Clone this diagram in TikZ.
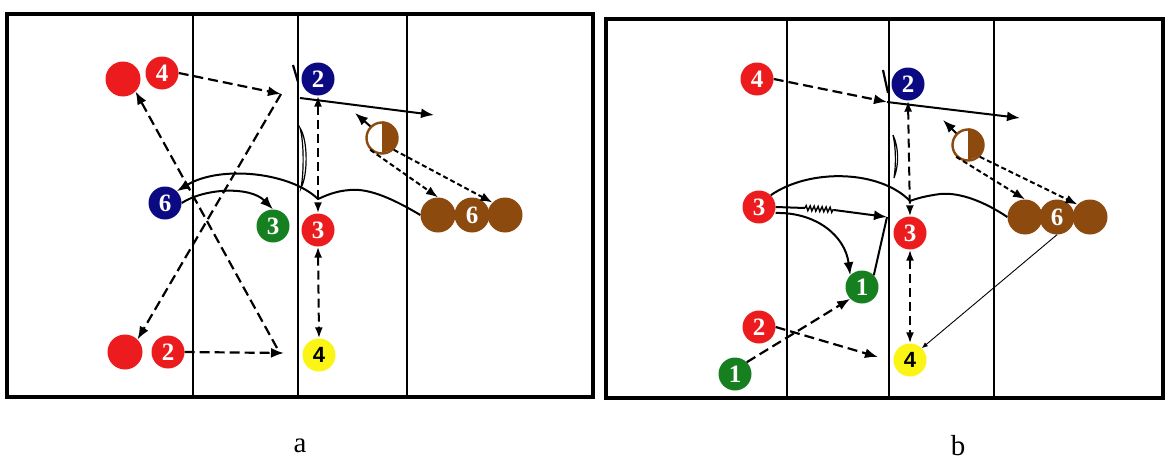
\documentclass[tikz,border=0pt]{standalone}
\usepackage{fontspec}
\setmainfont{Liberation Serif}
\newfontfamily\sansf{Liberation Sans}
\usetikzlibrary{arrows.meta,decorations.pathmorphing}
\definecolor{pred}{RGB}{236,28,30}
\definecolor{pblue}{RGB}{12,10,130}
\definecolor{pgreen}{RGB}{22,128,32}
\definecolor{pyellow}{RGB}{250,245,20}
\definecolor{pbrown}{RGB}{140,74,14}
\tikzset{
  pl/.style={circle, minimum size=33pt, inner sep=0pt, text=white,
    font=\fontsize{25}{25}\selectfont\bfseries},
  rp/.style={pl, fill=pred},
  bp/.style={pl, fill=pblue},
  gp/.style={pl, fill=pgreen},
  yp/.style={pl, fill=pyellow, text=black, font=\sansf\fontsize{22}{22}\selectfont\bfseries},
  brp/.style={pl, fill=pbrown, minimum size=35pt},
  bigred/.style={circle, fill=pred, minimum size=35pt, inner sep=0pt},
  half/.style={circle, draw=pbrown, line width=2.4pt, minimum size=31pt, inner sep=0pt},
  frame/.style={line width=3.2pt},
  court/.style={line width=2.2pt},
  tip/.style={-{Latex[length=13pt,width=10pt]}},
  pass/.style={line width=2.2pt, dash pattern=on 10pt off 5pt, tip},
  passb/.style={line width=2pt, dash pattern=on 9pt off 5pt, {Latex[length=11pt,width=8pt]}-{Latex[length=11pt,width=8pt]}},
  sdash/.style={line width=2pt, dash pattern=on 5pt off 3pt, -{Latex[length=12pt,width=9pt]}},
  run/.style={line width=2pt, tip},
  runn/.style={line width=2pt},
  thin/.style={line width=0.9pt},
  lab/.style={font=\fontsize{29}{29}\selectfont}
}
\begin{document}
\begin{tikzpicture}[x=1pt,y=-1pt]
\useasboundingbox (0,0) rectangle (1165,463);
% ---------------- panel a courts
\draw[frame] (7,14) rectangle (593,397);
\draw[court] (193,14) -- (193,397);
\draw[court] (298,14) -- (298,397);
\draw[court] (407,14) -- (407,397);
% ---------------- panel b courts
\draw[frame] (606,19) rectangle (1163,398);
\draw[court] (787,19) -- (787,398);
\draw[court] (889,19) -- (889,398);
\draw[court] (994,19) -- (994,398);

% ---------------- panel a players
\node[bigred] (rtA) at (123,79) {};
\node[rp] (r4a) at (162,73) {4};
\node[bp] (b6a) at (165,203) {6};
\node[gp] (g3a) at (273,226) {3};
\node[bp] (b2a) at (318,79) {2};
\node[rp] (r3a) at (318,230) {3};
\node[bigred] (rbA) at (125,352) {};
\node[rp] (r2a) at (168,352) {2};
\node[yp] (y4a) at (319,355) {4};
\node[half] (ha) at (382,138) {};
\fill[pbrown] (ha.north) arc[start angle=90,end angle=-90,radius=15.5pt] -- cycle;
\node[brp] (bla) at (438,215) {};
\node[brp] (bma) at (505,215) {};
\node[brp] (b6b) at (472,215) {6};

\coordinate (pA1) at (281,94);
\coordinate (pA2) at (284,353);
\coordinate (pA3) at (277,348);
\coordinate (pA4) at (300,98);
\coordinate (pA5) at (434,115);
\coordinate (pA6) at (355,113);

\draw[pass] (r4a.east) -- (pA1);
\draw[pass] (pA1) -- (rbA.north east);
\draw[pass] (r2a.east) -- (pA2);
\draw[pass] (pA3) -- (rtA.south east);
\draw[run] (b6a.east) .. controls (205,188) and (250,186) .. (g3a.north);
\draw[run] (bla.west) .. controls (395,200) and (370,188) .. (350,190)
   .. controls (335,191) and (325,196) .. (318,199)
   .. controls (290,172) and (220,165) .. (b6a.north east);
\draw[run] (pA4) -- (pA5);
\draw[passb] (b2a.south) -- (r3a.north);
\draw[passb] (r3a.south) -- (y4a.north);
\draw[run] (ha.north west) -- (pA6);
\draw[sdash] (ha.south west) -- (bla.north);
\draw[sdash] (ha.south east) -- (bma.north west);
\draw[line width=2.2pt] (293,65) -- (298,82);
\draw[line width=1.2pt] (300,128) .. controls (308,140) and (308,175) .. (301,188)
   .. controls (304,172) and (304,142) .. cycle;

% ---------------- panel b players
\node[rp] (r4b) at (757,79) {4};
\node[bp] (b2b) at (908,84) {2};
\node[rp] (r3l) at (759,207) {3};
\node[rp] (r3b) at (910,233) {3};
\node[gp] (g1u) at (862,287) {1};
\node[rp] (r2b) at (759,327) {2};
\node[gp] (g1l) at (735,374) {1};
\node[yp] (y4b) at (910,360) {4};
\node[half] (hb) at (968,145) {};
\fill[pbrown] (hb.north) arc[start angle=90,end angle=-90,radius=15.5pt] -- cycle;
\node[brp] (blb) at (1025,217) {};
\node[brp] (bmb) at (1090,217) {};
\node[brp] (b6c) at (1057,217) {6};

\coordinate (pB1) at (887,102);
\coordinate (pB2) at (1020,118);
\coordinate (pB3) at (887,217);
\coordinate (pB4) at (943,120);
\coordinate (pB5) at (878,357);
\coordinate (zA) at (805,208);
\coordinate (zB) at (834,210);

\draw[pass] (r4b.east) -- (pB1);
\draw[run] (pB1) -- (pB2);
\draw[passb] (b2b.south) -- (r3b.north);
\draw[passb] (r3b.south) -- (y4b.north);
\draw[run] (hb.north west) -- (pB4);
\draw[sdash] (hb.south west) -- (blb.north);
\draw[sdash] (hb.south east) -- (bmb.north west);
\draw[runn] (blb.west) .. controls (985,202) and (960,192) .. (940,194)
   .. controls (925,196) and (915,199) .. (910,201)
   .. controls (880,170) and (810,168) .. (r3l.north east);
\draw[runn] (r3l.east) -- (zA);
\draw[line width=1.4pt, decorate, decoration={zigzag, segment length=4pt, amplitude=2.5pt}] (zA) -- (zB);
\draw[run] (zB) -- (pB3);
\draw[run] ([yshift=-6pt]r3l.east) .. controls (815,212) and (845,235) .. (g1u.north west);
\draw[runn] (g1u.north east) -- (pB3);
\draw[pass] (g1l.north east) -- (g1u.south west);
\draw[pass] (r2b.east) -- (pB5);
\draw[thin, -{Latex[length=6pt,width=5pt]}] (b6c.south) -- (y4b.north east);
\draw[line width=2.2pt] (883,70) -- (888,93);
\draw[line width=1.2pt] (893,135) .. controls (899,148) and (899,165) .. (894,178)
   .. controls (896,165) and (896,148) .. cycle;

% ---------------- captions
\node[lab] (capa) at (300,446) {a};
\node[lab] (capb) at (958,446) {b};
\end{tikzpicture}
\end{document}
